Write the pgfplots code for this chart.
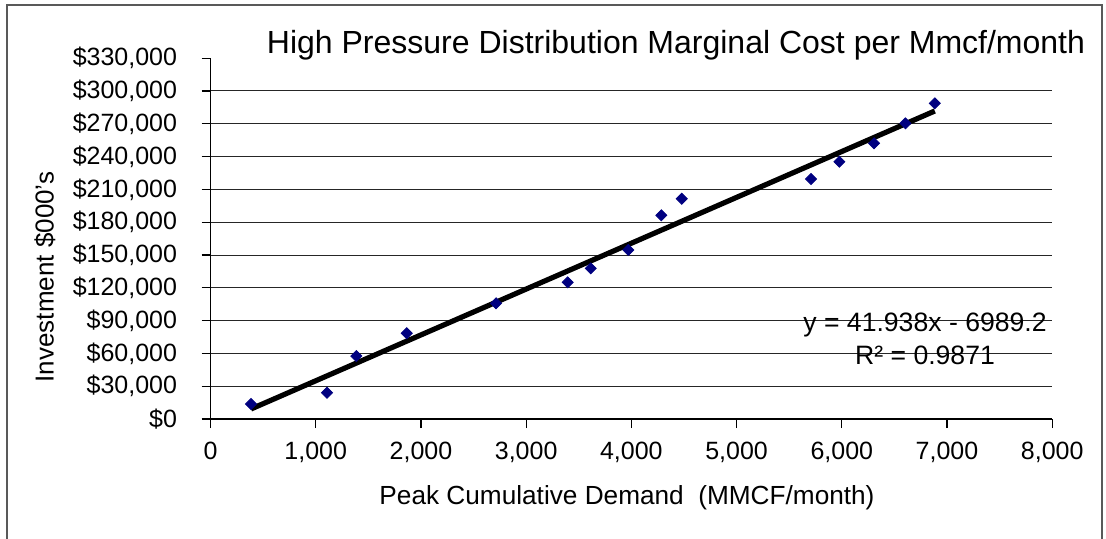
\documentclass[border=0pt]{standalone}
\usepackage{pgfplots}
\pgfplotsset{compat=1.18}
\usepackage{fontspec}
\setmainfont{Liberation Sans}
\definecolor{navy}{HTML}{000080}
\begin{document}
\begin{tikzpicture}[x=0.5pt,y=-0.5pt]
\path[use as bounding box] (0,0) rectangle (1106,539);
\draw[black!65, line width=0.6pt] (7,539) -- (7,5) -- (1102,5) -- (1102,539);
\begin{axis}[
  at={(105.25pt,-209.5pt)}, anchor=south west,
  scale only axis, width=420.85pt, height=180.4pt,
  xmin=0, xmax=8000, ymin=0, ymax=330000,
  xtick={0,1000,...,8000},
  ytick={0,30000,...,300000},
  extra y ticks={330000},
  extra y tick style={grid=none},
  ymajorgrids,
  major grid style={black!85, line width=0.5pt},
  axis x line*=bottom, axis y line*=left,
  axis line style={black, line width=0.6pt, -},
  tick align=outside, major tick length=4.5pt,
  tick style={black, line width=0.6pt},
  scaled ticks=false,
  /pgf/number format/1000 sep={,},
  /pgf/number format/fixed,
  /pgf/number format/precision=0,
  /pgf/number format/assume math mode=true,
  yticklabel={\$\pgfmathprintnumber{\tick}},
  ticklabel style={font=\fontsize{12.5}{14}\selectfont},
  yticklabel style={xshift=-8.7pt},
  xticklabel style={yshift=-3.3pt},
  clip=false,
]
\addplot[only marks, mark=square*, mark size=1.95pt, color=navy,
  mark options={rotate=45, fill=navy, draw=navy}] coordinates {
  (385,13700) (1107,24050) (1386,57600) (1865,78400) (2714,105800)
  (3395,125000) (3614,137800) (3971,154600) (4285,186300) (4479,201500)
  (5708,219500) (5977,235300) (6307,252200) (6605,270400) (6884,288700)
};
\addplot[black, line width=2.6pt, no marks] coordinates {(385,9157) (6884,281713)};
\end{axis}
\node[font=\fontsize{16}{19}\selectfont] at (676,45) {High Pressure Distribution Marginal Cost per Mmcf/month};
\node[font=\fontsize{13.1}{15}\selectfont] at (627,498) {Peak Cumulative Demand\ \ (MMCF/month)};
\node[font=\fontsize{13}{15}\selectfont, rotate=90] at (45,277) {Investment \$000's};
\node[font=\fontsize{13.3}{15}\selectfont] at (925,325) {y = 41.938x - 6989.2};
\node[font=\fontsize{13.3}{15}\selectfont] at (925,355) {R² = 0.9871};
\end{tikzpicture}
\end{document}
